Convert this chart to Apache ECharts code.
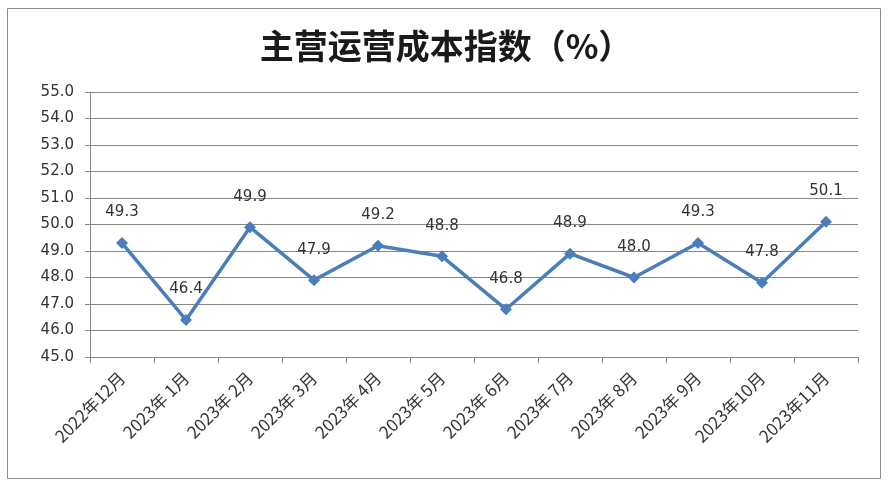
<!DOCTYPE html>
<html><head><meta charset="utf-8">
<script src="https://cdn.jsdelivr.net/npm/echarts@6/dist/echarts.min.js"></script>
<style>html,body{margin:0;padding:0;background:#fff}#c{width:892px;height:487px}</style>
</head><body><div id="c"></div>
<script>
var titleText = '主营运营成本指数（%）';
var categories = ['2022年12月','2023年 1月','2023年 2月','2023年 3月','2023年 4月','2023年 5月','2023年 6月','2023年 7月','2023年 8月','2023年 9月','2023年10月','2023年11月'];
var values = [49.3, 46.4, 49.9, 47.9, 49.2, 48.8, 46.8, 48.9, 48.0, 49.3, 47.8, 50.1];
var yMin = 45, yMax = 55, yStep = 1;

var chart = echarts.init(document.getElementById('c'), null, {renderer:'canvas'});
chart.setOption({
  animation:false,
  backgroundColor:'#fff',
  graphic:[{type:'rect',shape:{x:7.5,y:8.5,width:873,height:470},style:{fill:'none',stroke:'#8c8c8c',lineWidth:1},silent:true}],
  title:{text:titleText,left:'center',top:24,textStyle:{fontFamily:'Noto Sans CJK SC',fontSize:34,fontWeight:'bold',color:'#1a1a1a'}},
  grid:{left:90,right:34,top:92,bottom:130},
  xAxis:{type:'category',data:categories,boundaryGap:true,
    axisLine:{lineStyle:{color:'#868686',width:1}},
    axisTick:{show:true,alignWithLabel:false,length:6,lineStyle:{color:'#868686'}},
    axisLabel:{rotate:45,color:'#333',fontSize:17,fontFamily:'Noto Sans CJK SC',margin:18,interval:0}},
  yAxis:{type:'value',min:yMin,max:yMax,interval:yStep,
    axisLine:{show:true,lineStyle:{color:'#868686'}},
    axisTick:{show:true,inside:false,length:5,lineStyle:{color:'#868686'}},
    splitLine:{lineStyle:{color:'#868686',width:1}},
    axisLabel:{color:'#333',fontSize:15,fontFamily:'DejaVu Sans',margin:16,formatter:function(v){return v.toFixed(1);}}},
  series:[{type:'line',data:values,symbol:'diamond',symbolSize:12,
    lineStyle:{color:'#4a7ebb',width:3.5},itemStyle:{color:'#4a7ebb'},
    label:{show:true,position:'top',distance:17,color:'#333',fontSize:15,fontFamily:'DejaVu Sans',formatter:function(p){return p.value.toFixed(1);}}}]
});
</script></body></html>
